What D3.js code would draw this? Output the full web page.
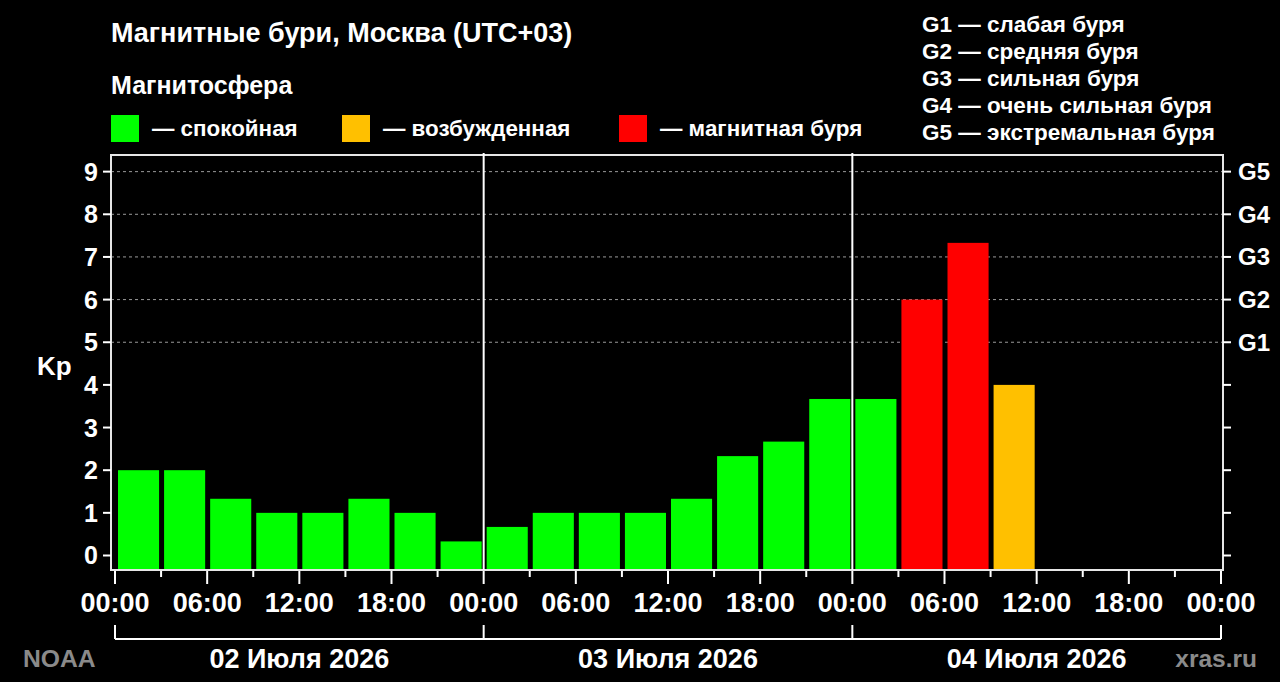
<!DOCTYPE html>
<html lang="ru">
<head>
<meta charset="UTF-8">
<title>Магнитные бури</title>
<style>
body { margin: 0; background: #000; }
svg { display: block; }
text { font-family: "Liberation Sans", Arial, sans-serif; font-weight: bold; fill: #fff; }
</style>
</head>
<body>
<svg width="1280" height="682"></svg>
<script src="https://d3js.org/d3.v7.min.js"></script>
<script>
// Kp по трёхчасовым интервалам начиная с 02.07.2026 00:00
var kpValues = [2, 2, 1.33, 1, 1, 1.33, 1, 0.33,
                0.67, 1, 1, 1, 1.33, 2.33, 2.67, 3.67,
                3.67, 6, 7.33, 4];
var dayLabels = ["02 Июля 2026", "03 Июля 2026", "04 Июля 2026"];
var kpTicks = [0, 1, 2, 3, 4, 5, 6, 7, 8, 9];
var gLabels = ["G1", "G2", "G3", "G4", "G5"];   // Kp 5..9
var gLegend = ["G1 — слабая буря", "G2 — средняя буря", "G3 — сильная буря",
               "G4 — очень сильная буря", "G5 — экстремальная буря"];
var stateNames = ["— спокойная", "— возбужденная", "— магнитная буря"];
var stateColors = ["#00ff00", "#ffc000", "#ff0000"];

var svg = d3.select("svg");
svg.append("rect").attr("width", 1280).attr("height", 682).attr("fill", "#000");

var start = new Date(Date.UTC(2026, 6, 2)),
    end = new Date(Date.UTC(2026, 6, 5));

var x = d3.scaleUtc().domain([start, end]).range([115, 1221]);
var y = d3.scaleLinear().domain([-0.34, 9.39]).range([570, 155]);
var frame = {left: 111, right: 1223, top: 155, bottom: 570};

function state(v) { return v < 4 ? 0 : (v < 5 ? 1 : 2); }

// заголовки
svg.append("text").attr("x", 111).attr("y", 42).style("font-size", "27px")
    .text("Магнитные бури, Москва (UTC+03)");
svg.append("text").attr("x", 111).attr("y", 94).style("font-size", "25px")
    .text("Магнитосфера");

// легенда состояний
var legX = [111, 342, 619];
stateNames.forEach(function(name, i) {
    svg.append("rect").attr("x", legX[i]).attr("y", 115).attr("width", 28).attr("height", 27)
        .attr("fill", stateColors[i]);
    svg.append("text").attr("x", legX[i] + 41).attr("y", 136).style("font-size", "22.4px").text(name);
});

// легенда G
svg.selectAll(".glegend").data(gLegend).enter().append("text")
    .attr("class", "glegend")
    .attr("x", 922)
    .attr("y", function(d, i) { return 32 + i * 27; })
    .style("font-size", "22.5px")
    .text(function(d) { return d; });

// сетка
svg.selectAll(".grid").data(kpTicks.slice(5)).enter().append("line")
    .attr("x1", frame.left).attr("x2", frame.right)
    .attr("y1", function(d) { return y(d); }).attr("y2", function(d) { return y(d); })
    .attr("stroke", "#9a9a9a").attr("stroke-width", 1).attr("stroke-dasharray", "3,3");

// столбцы
var bars = kpValues.map(function(v, i) {
    return {kp: v, t0: d3.utcHour.offset(start, i * 3), t1: d3.utcHour.offset(start, i * 3 + 3)};
});
svg.selectAll(".bar").data(bars).enter().append("rect")
    .attr("x", function(d) { return x(d.t0) + 3; })
    .attr("width", function(d) { return x(d.t1) - x(d.t0) - 5; })
    .attr("y", function(d) { return y(d.kp); })
    .attr("height", function(d) { return y.range()[0] - y(d.kp); })
    .attr("fill", function(d) { return stateColors[state(d.kp)]; });

// рамка и разделители дней
svg.append("rect").attr("x", frame.left).attr("y", frame.top)
    .attr("width", frame.right - frame.left).attr("height", frame.bottom - frame.top)
    .attr("fill", "none").attr("stroke", "#e6e6e6").attr("stroke-width", 2);
var days = d3.utcDay.range(start, d3.utcDay.offset(end, 1));
svg.selectAll(".sep").data(days.slice(1, 3)).enter().append("line")
    .attr("x1", function(d) { return x(d); }).attr("x2", function(d) { return x(d); })
    .attr("y1", frame.top - 2).attr("y2", frame.bottom)
    .attr("stroke", "#fff").attr("stroke-width", 2);

// ось Y слева
svg.selectAll(".ytick").data(kpTicks).enter().append("line")
    .attr("x1", frame.left - 8).attr("x2", frame.left)
    .attr("y1", function(d) { return y(d); }).attr("y2", function(d) { return y(d); })
    .attr("stroke", "#fff").attr("stroke-width", 2);
svg.selectAll(".ylab").data(kpTicks).enter().append("text")
    .attr("x", 98).attr("y", function(d) { return y(d) + 9; })
    .attr("text-anchor", "end").style("font-size", "25px")
    .text(function(d) { return d; });
svg.append("text").attr("x", 37).attr("y", 375).style("font-size", "26px").text("Kp");

// ось Y справа
svg.selectAll(".rtick").data(kpTicks).enter().append("line")
    .attr("x1", frame.right).attr("x2", frame.right + 8)
    .attr("y1", function(d) { return y(d); }).attr("y2", function(d) { return y(d); })
    .attr("stroke", "#fff").attr("stroke-width", 2);
svg.selectAll(".glab").data(gLabels).enter().append("text")
    .attr("x", 1238).attr("y", function(d, i) { return y(i + 5) + 8.5; })
    .style("font-size", "24px")
    .text(function(d) { return d; });

// ось X
var minor = d3.utcHour.every(3).range(start, d3.utcHour.offset(end, 1));
var major = minor.filter(function(d) { return d.getUTCHours() % 6 === 0; });
svg.selectAll(".xminor").data(minor).enter().append("line")
    .attr("x1", function(d) { return x(d); }).attr("x2", function(d) { return x(d); })
    .attr("y1", frame.bottom + 1).attr("y2", function(d) { return d.getUTCHours() % 6 ? 577 : 584; })
    .attr("stroke", "#fff").attr("stroke-width", 2);
var fmt = d3.utcFormat("%H:%M");
svg.selectAll(".xlab").data(major).enter().append("text")
    .attr("x", function(d) { return x(d); }).attr("y", 612)
    .attr("text-anchor", "middle").style("font-size", "27px")
    .text(function(d) { return fmt(d); });

// скобка с датами
svg.append("line").attr("x1", x(start)).attr("x2", x(end)).attr("y1", 639).attr("y2", 639)
    .attr("stroke", "#fff").attr("stroke-width", 2);
svg.selectAll(".brk").data(days).enter().append("line")
    .attr("x1", function(d) { return x(d); }).attr("x2", function(d) { return x(d); })
    .attr("y1", 625).attr("y2", 639)
    .attr("stroke", "#fff").attr("stroke-width", 2);
svg.selectAll(".dlab").data(dayLabels).enter().append("text")
    .attr("x", function(d, i) { return x(d3.utcHour.offset(days[i], 12)); }).attr("y", 668)
    .attr("text-anchor", "middle").style("font-size", "27px")
    .text(function(d) { return d; });

svg.append("text").attr("x", 23).attr("y", 667).style("font-size", "24.7px").style("fill", "#8a8a8a").text("NOAA");
svg.append("text").attr("x", 1257).attr("y", 667).attr("text-anchor", "end")
    .style("font-size", "24.5px").style("fill", "#8a8a8a").text("xras.ru");
</script>
</body>
</html>
